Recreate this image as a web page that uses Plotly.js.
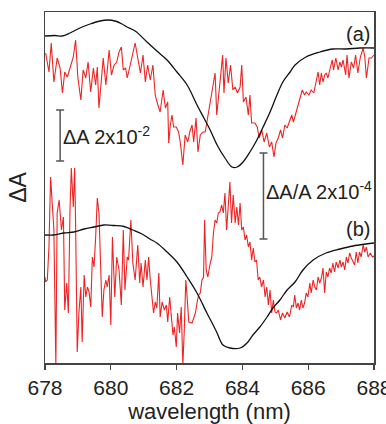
<!DOCTYPE html>
<html><head><meta charset="utf-8">
<script src="https://cdn.plot.ly/plotly-3.0.1.min.js"></script>
<style>html,body{margin:0;padding:0;background:#fff}#chart{width:386px;height:424px}</style>
</head><body><div id="chart"></div>
<script>
// wavelength (nm) and ΔA (arbitrary units, offset per trace)
const blackA_x = [678.00,678.30,678.52,678.76,679.06,679.37,679.67,679.91,680.13,680.34,680.49,680.74,681.10,681.40,681.71,682.01,682.32,682.62,682.83,683.02,683.23,683.47,683.68,683.84,684.02,684.23,684.44,684.63,684.84,685.05,685.23,685.45,685.60,685.93,686.36,686.75,687.15,687.57,688.00];
const blackA_y = [327,327.5,327,330,335,339,342,343,342,339,336,332,321,312,303,291,278,258,245,233,218,205,196,196,201,211,223,236,251,268,281,291,298,306,311,314,314,315,315];

const blackB_x = [678.00,678.27,678.58,678.88,679.19,679.49,679.79,680.10,680.40,680.67,680.95,681.19,681.40,681.71,682.01,682.32,682.62,682.92,683.08,683.23,683.41,683.62,683.93,684.14,684.32,684.53,684.75,684.93,685.14,685.36,685.60,685.84,686.15,686.54,686.97,687.36,687.76,688.00];
const blackB_y = [128,128,130,131,134,136,138,137.5,136.5,133,129,124,120,111,101,86,70,50,40,30,18,15,15,20,28,36,46,55,63,73,81,93,103,110,114,117,119,120];

const redA_x = [678.02,678.12,678.19,678.27,678.37,678.46,678.53,678.60,678.68,678.76,678.86,678.93,679.00,679.09,679.16,679.24,679.31,679.39,679.47,679.54,679.59,679.64,679.71,679.77,679.85,679.89,679.95,680.02,680.10,680.18,680.25,680.32,680.38,680.45,680.50,680.59,680.67,680.74,680.82,680.90,680.98,681.05,681.12,681.20,681.28,681.35,681.43,681.50,681.59,681.66,681.73,681.76,681.81,681.86,681.91,681.99,682.06,682.11,682.19,682.26,682.34,682.40,682.47,682.52,682.59,682.65,682.72,682.80,682.87,682.95,683.01,683.09,683.17,683.22,683.30,683.35,683.40,683.44,683.50,683.57,683.64,683.71,683.78,683.85,683.93,683.98,684.03,684.11,684.18,684.23,684.28,684.38,684.45,684.51,684.59,684.66,684.74,684.82,684.89,684.96,685.02,685.09,685.16,685.22,685.29,685.36,685.43,685.50,685.55,685.66,685.72,685.76,685.82,685.89,685.94,686.02,686.09,686.17,686.25,686.30,686.35,686.40,686.45,686.50,686.55,686.60,686.67,686.73,686.77,686.84,686.91,686.96,687.01,687.06,687.14,687.18,687.24,687.31,687.38,687.44,687.51,687.58,687.67,687.72,687.77,687.85,687.92,688.00];
const redA_y = [310,291,320,281,305,295,270,291,286,295,306,323,285,263,293,285,301,271,295,278,296,255,285,305,278,295,313,288,298,301,311,316,293,295,285,298,310,320,305,290,308,281,298,283,298,268,258,251,273,255,261,220,238,248,236,236,231,221,198,228,221,231,238,221,245,211,228,231,231,248,258,277,290,248,278,291,308,270,305,280,298,273,276,270,276,298,261,266,248,268,240,240,236,225,233,221,230,216,221,206,220,225,233,225,238,235,241,248,241,255,260,268,273,268,271,268,273,270,281,291,278,290,281,288,290,285,295,303,293,305,293,301,296,303,288,308,285,301,295,308,290,305,315,306,285,305,305,308];

const redB_x = [678.00,678.02,678.07,678.12,678.17,678.22,678.27,678.33,678.37,678.43,678.50,678.56,678.60,678.66,678.71,678.76,678.80,678.86,678.90,678.93,678.98,679.03,679.09,679.13,679.19,679.24,679.29,679.34,679.39,679.44,679.49,679.54,679.59,679.64,679.69,679.74,679.79,679.85,679.89,679.95,680.00,680.05,680.12,680.18,680.25,680.32,680.38,680.43,680.50,680.54,680.61,680.67,680.74,680.82,680.88,680.92,680.98,681.05,681.10,681.15,681.20,681.25,681.30,681.35,681.40,681.46,681.50,681.56,681.63,681.69,681.73,681.79,681.83,681.89,681.93,681.99,682.03,682.09,682.14,682.19,682.23,682.28,682.32,682.37,682.47,682.57,682.62,682.67,682.72,682.77,682.82,682.85,682.90,682.95,683.01,683.07,683.12,683.17,683.22,683.27,683.32,683.37,683.42,683.47,683.52,683.57,683.62,683.67,683.72,683.78,683.83,683.88,683.93,683.98,684.03,684.08,684.13,684.18,684.23,684.28,684.33,684.38,684.43,684.48,684.53,684.58,684.64,684.69,684.74,684.79,684.84,684.89,684.94,684.99,685.04,685.09,685.16,685.22,685.29,685.36,685.43,685.50,685.55,685.59,685.64,685.69,685.74,685.79,685.84,685.89,685.94,685.99,686.05,686.09,686.15,686.20,686.25,686.30,686.35,686.40,686.45,686.50,686.55,686.60,686.65,686.70,686.75,686.80,686.85,686.91,686.96,687.01,687.06,687.11,687.16,687.21,687.26,687.31,687.36,687.41,687.46,687.51,687.56,687.61,687.67,687.72,687.77,687.82,687.89,687.95,688.00];
const redB_y = [86,81,83,116,186,156,133,-2,150,163,133,146,53,80,50,153,195,156,195,140,11,50,76,21,88,66,76,71,56,106,96,126,165,150,86,46,73,83,76,88,38,126,66,106,93,58,133,73,106,103,143,100,83,118,80,100,76,103,83,106,83,63,50,61,55,90,46,61,53,58,41,66,50,28,36,16,50,30,56,-2,30,83,66,41,40,50,60,68,70,83,86,143,93,86,98,106,130,143,140,150,151,158,150,170,133,153,181,140,168,140,156,138,160,133,136,123,128,116,121,103,115,101,103,83,86,76,83,66,76,58,73,50,63,51,50,53,43,50,45,51,46,58,56,68,55,60,53,63,55,60,70,66,80,70,83,76,73,86,80,85,95,70,91,86,95,90,100,91,101,95,103,96,101,93,106,100,110,105,101,98,111,100,111,106,118,111,116,106,110,106,107];

// scale bars: [x, y centre, half length]
const barA = {x: 678.46, y: 227.5, half: 25.5, label: 'ΔA 2x10<sup>-2</sup>'};
const barB = {x: 684.64, y: 167, half: 43, label: 'ΔA/A 2x10<sup>-4</sup>'};
const xTicks = [678, 680, 682, 684, 686, 688];

const red = '#ee2424', blk = '#111111', gray = '#555555';
const FONT = 'Liberation Sans, Arial, sans-serif';

function bar(b){
  return {x:[b.x], y:[b.y], mode:'markers', marker:{size:0.1, color:'rgba(0,0,0,0)'},
    error_y:{type:'data', array:[b.half], visible:true, color:gray, thickness:1.5, width:4},
    hoverinfo:'skip', showlegend:false};
}

const traces = [
  {x: redB_x, y: redB_y, mode:'lines', line:{color:red, width:1.1}},
  {x: blackB_x, y: blackB_y, mode:'lines', line:{color:blk, width:1.3, shape:'spline'}},
  {x: redA_x, y: redA_y, mode:'lines', line:{color:red, width:1.1}},
  {x: blackA_x, y: blackA_y, mode:'lines', line:{color:blk, width:1.3, shape:'spline'}},
  bar(barA), bar(barB)
];

const layout = {
  width: 386, height: 424,
  margin: {l:45, r:12, t:12, b:61},
  paper_bgcolor:'#fff', plot_bgcolor:'#fff',
  showlegend:false,
  font:{family:FONT, color:'#222'},
  xaxis:{range:[678,688], tickvals:xTicks, ticktext:xTicks.map(String),
    ticks:'outside', ticklen:5, tickwidth:1.3, tickcolor:'#444',
    ticklabeloverflow:'allow',
    showline:true, linecolor:'#444', linewidth:1.5, mirror:true,
    showgrid:false, zeroline:false, tickfont:{size:21, color:'#222'},
    title:{text:'wavelength (nm)', font:{size:22, color:'#222'}, standoff:6}},
  yaxis:{range:[0,351], showticklabels:false, ticks:'',
    showline:true, linecolor:'#444', linewidth:1.5, mirror:true,
    showgrid:false, zeroline:false,
    title:{text:'ΔA', font:{size:23, color:'#222'}, standoff:10}},
  annotations:[
    {x:barA.x+0.04, y:barA.y, xref:'x', yref:'y', text:barA.label, showarrow:false, xanchor:'left', yanchor:'middle', font:{size:20, color:'#222'}},
    {x:barB.x+0.03, y:173, xref:'x', yref:'y', text:barB.label, showarrow:false, xanchor:'left', yanchor:'middle', font:{size:20, color:'#222'}},
    {x:687.5, y:329, xref:'x', yref:'y', text:'(a)', showarrow:false, font:{size:20, color:'#222'}},
    {x:687.5, y:134, xref:'x', yref:'y', text:'(b)', showarrow:false, font:{size:20, color:'#222'}}
  ]
};
Plotly.newPlot('chart', traces, layout, {displayModeBar:false, staticPlot:true});
</script></body></html>
